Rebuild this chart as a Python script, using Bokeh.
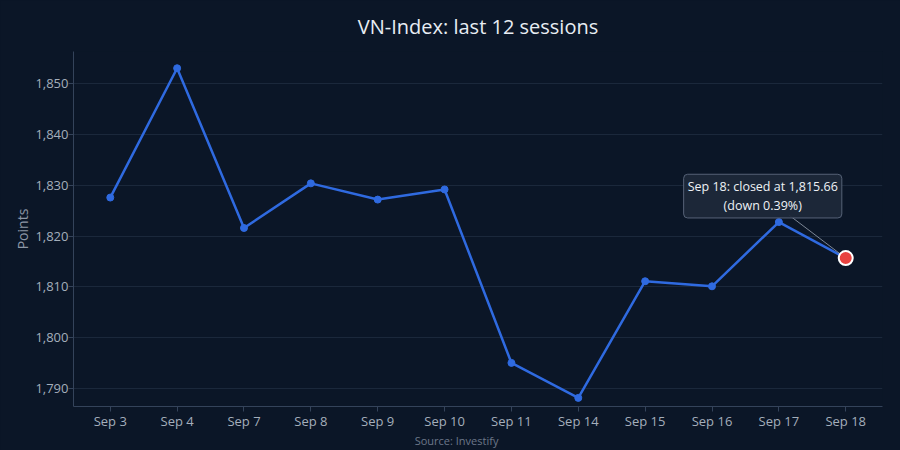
from bokeh.plotting import figure
from bokeh.models import Range1d, FixedTicker, NumeralTickFormatter, Label, ColumnDataSource
from bokeh.embed import file_html
from bokeh.resources import INLINE

# data
sessions = ["Sep 3", "Sep 4", "Sep 7", "Sep 8", "Sep 9", "Sep 10",
            "Sep 11", "Sep 14", "Sep 15", "Sep 16", "Sep 17", "Sep 18"]
closes = [1827.6, 1853.1, 1821.6, 1830.4, 1827.2, 1829.2,
          1795.0, 1788.1, 1811.1, 1810.1, 1822.77, 1815.66]
y_ticks = [1790, 1800, 1810, 1820, 1830, 1840, 1850]
note_text = "Sep 18: closed at 1,815.66\n(down 0.39%)"
source_text = "Source: Investify"

BG = "#0b1627"
FONT = "Open Sans"

idx = list(range(len(sessions)))
src = ColumnDataSource(dict(x=idx, y=closes))

p = figure(width=900, height=450, output_backend="svg", toolbar_location=None,
           x_range=Range1d(-0.55, 11.55), y_range=Range1d(1786.4, 1856.4),
           min_border_left=73, min_border_right=18, min_border_bottom=0, min_border_top=50)
p.background_fill_color = BG
p.border_fill_color = BG
p.outline_line_color = None

p.title.text = "VN-Index: last 12 sessions"
p.title.align = "center"
p.title.vertical_align = "middle"
p.title.standoff = 22
p.title.text_color = "#e8edf3"
p.title.text_font = FONT
p.title.text_font_size = "20px"
p.title.text_font_style = "normal"

p.xaxis.ticker = FixedTicker(ticks=idx)
p.xaxis.major_label_overrides = {i: s for i, s in enumerate(sessions)}
p.yaxis.ticker = FixedTicker(ticks=y_ticks)
p.yaxis.formatter = NumeralTickFormatter(format="0,0")
p.yaxis.axis_label = "Points"
# the source caption sits under the session labels; padded so it lands left of centre
p.xaxis.axis_label = source_text + "\u00a0" * 15

for ax in (p.xaxis, p.yaxis):
    ax.axis_line_color = "#34435a"
    ax.major_tick_line_color = "#34435a"
    ax.major_tick_out = 5
    ax.major_tick_in = 0
    ax.minor_tick_line_color = None
    ax.major_label_standoff = 0
    ax.major_label_text_color = "#a4aebb"
    ax.major_label_text_font = FONT
    ax.major_label_text_font_size = "13px"
    ax.axis_label_text_color = "#8d97a6"
    ax.axis_label_text_font = FONT
    ax.axis_label_text_font_size = "14px"
    ax.axis_label_text_font_style = "normal"
p.yaxis.axis_label_standoff = 0
p.xaxis.axis_label_standoff = 0
p.xaxis.axis_label_text_font_size = "11px"
p.xaxis.axis_label_text_color = "#6c7789"

p.xgrid.grid_line_color = None
p.ygrid.grid_line_color = "#1b283b"
p.ygrid.grid_line_width = 1

p.line("x", "y", source=src, line_color="#2f6ae0", line_width=2.5)
p.scatter("x", "y", source=src, size=7, fill_color="#2f6ae0", line_color="#2f6ae0")

# leader line from note to last point
last_x, last_y = idx[-1], closes[-1]
p.segment(x0=[last_x - 0.85], y0=[last_y + 8.5], x1=[last_x], y1=[last_y],
          line_color="#7d8796", line_width=1)
p.scatter([last_x], [last_y], size=14, fill_color="#e8423f", line_color="white", line_width=2)

note = Label(x=last_x, y=last_y, x_offset=-83, y_offset=62, text=note_text,
             text_align="center", text_baseline="middle", text_color="#eef2f6",
             text_font=FONT, text_font_size="12.5px", text_line_height=1.1,
             background_fill_color="#1d2839", background_fill_alpha=0.95,
             border_line_color="#566277", border_line_width=1,
             padding=4, border_radius=4)
p.add_layout(note)

html = file_html(p, INLINE)
html = html.replace("<body>", '<body style="margin:0;background-color:%s;">' % BG)
open("out.html", "w").write(html)
